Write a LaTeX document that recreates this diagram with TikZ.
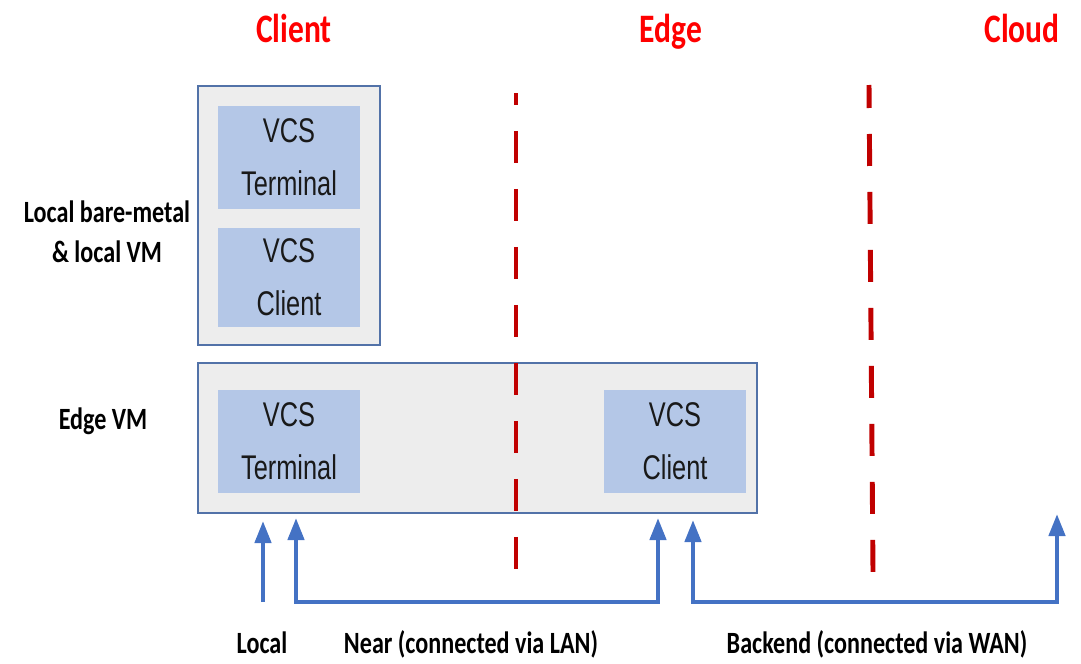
\documentclass[tikz,border=0pt]{standalone}
\usepackage{fontspec}
\setmainfont{Liberation Sans}
\newfontfamily\labelfont{Carlito}[FakeStretch=0.78]
\newfontfamily\boxfont{Liberation Sans}[FakeStretch=0.74]
\usetikzlibrary{arrows.meta,fit}

\definecolor{tierred}{HTML}{FF0000}
\definecolor{divred}{HTML}{C00000}
\definecolor{boxblue}{HTML}{B4C7E7}
\definecolor{panelgray}{HTML}{EDEDED}
\definecolor{panelline}{HTML}{5272A8}
\definecolor{linkblue}{HTML}{4472C4}

\begin{document}
\begin{tikzpicture}[x=0.02cm, y=-0.02cm, >={Triangle[width=0.32cm,length=0.44cm]},
	panel/.style={draw=panelline, line width=1.1pt, fill=panelgray, inner sep=0pt},
	vcsbox/.style={fill=boxblue, inner sep=0pt, align=center, text=black!90,
		minimum width=2.84cm, minimum height=2.06cm,
		font={\boxfont\fontsize{19.5}{30}\selectfont}},
	tier/.style={anchor=base, text=tierred, font={\labelfont\bfseries\fontsize{23}{27}\selectfont}},
	side/.style={align=center, font={\labelfont\bfseries\fontsize{17.6}{22.7}\selectfont}},
	divider/.style={draw=divred, line width=2.8pt, dash pattern=on 0.64cm off 0.52cm},
	link/.style={draw=linkblue, line width=2.5pt}]
	\useasboundingbox (0,0) rectangle (1081,663);
	
	% 外框
	\node[panel, fit={(198,86) (380,345)}] (localvm) {};
	\node[panel, fit={(198,363) (757,513)}] (edgevm) {};
	
	% VCS 组件
	\node[vcsbox] (term1) at (289,157.5) {VCS\\Terminal};
	\node[vcsbox, minimum height=1.98cm] (client1) at (289,277.5) {VCS\\Client};
	\node[vcsbox] (term2) at (289,441.5) {VCS\\Terminal};
	\node[vcsbox] (client2) at (675,441.5) {VCS\\Client};
	
	% 分界虚线
	\draw[divider, dash phase=0.4cm] (516,93) -- (516,570);
	\draw[divider, dash phase=0.18cm] (869,85) -- (873,572);
	
	% 标题
	\node[tier] (tclient) at (294,42) {Client};
	\node[tier] (tedge) at (671,42) {Edge};
	\node[tier] (tcloud) at (1022,42) {Cloud};
	
	% 左侧说明
	\node[side] (lbare) at (107,232) {Local bare-metal\\\& local VM};
	\node[side] (ledge) at (103,421) {Edge VM};
	
	% 连接箭头
	\coordinate (localA) at (263,521);
	\coordinate (localB) at (263,602);
	\coordinate (nearA) at (296,518);
	\coordinate (nearB) at (658,518);
	\coordinate (backA) at (693,520);
	\coordinate (backB) at (1057,514);
	\draw[link, ->] (localB) -- (localA);
	\draw[link, <->] (nearA) -- ++(0,84) -| (nearB);
	\draw[link, <->] (backA) -- ++(0,82) -| (backB);
	
	% 底部标签
	\node[side, anchor=base] (blocal) at (262,653) {Local};
	\node[side, anchor=base] (bnear) at (471,653) {Near (connected via LAN)};
	\node[side, anchor=base] (bback) at (877,653) {Backend (connected via WAN)};
\end{tikzpicture}
\end{document}
